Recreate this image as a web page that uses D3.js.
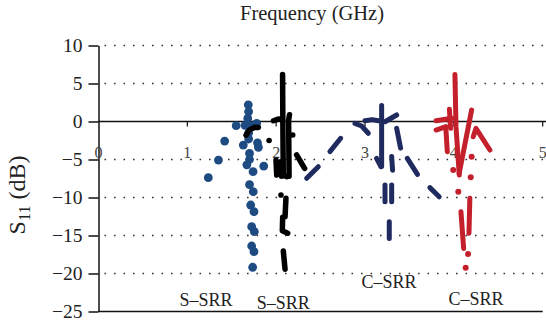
<!DOCTYPE html>
<html><head><meta charset="utf-8">
<script src="https://cdn.jsdelivr.net/npm/d3@7"></script>
<style>
body{margin:0;background:#fff}
svg{display:block}
text{font-family:"Liberation Serif","DejaVu Serif",serif;fill:#222}
</style>
</head><body>
<svg id="c" width="546" height="328"></svg>
<script>
// ---- data (frequency in GHz, S11 in dB) ----
const xTicks = [0, 1, 2, 3, 4, 5];
const yTicks = [10, 5, 0, -5, -10, -15, -20, -25];
const gridValues = [10, 5, -5, -10, -15, -20];

// S-SRR (blue dotted trace)
const sSrrBlueDots = [
  [1.236,-7.39],[1.35,-5.07],[1.42,-2.57],[1.55,-0.55],
  [1.686,2.2],[1.69,1.3],[1.68,0.4],[1.65,-0.5],[1.71,-0.6],[1.78,-0.24],
  [1.69,-1.5],[1.69,-2.3],[1.63,-3.1],[1.80,-3.4],[1.79,-2.8],[1.70,-4.2],[1.70,-5.0],
  [1.67,-5.7],[1.86,-5.86],[1.74,-6.6],[1.70,-8.3],
  [1.742,-9.24],[1.713,-10.99],[1.75,-11.87],[1.724,-13.84],[1.754,-14.5],
  [1.724,-16.38],[1.75,-17.13],[1.735,-19.18]
];

// S-SRR (black dashed trace)
const sSrrBlackStrokes = [
  [[1.66,-1.8],[1.70,-1.1],[1.76,-0.75],[1.80,-0.8]],
  [[1.97,0.1],[2.02,0.3],[2.06,0.37]],
  [[2.072,6.2],[2.075,0.0],[2.08,-7.1],[2.12,-7.25]],
  [[2.15,0.9],[2.14,0.2],[2.145,-7.2]],
  [[1.998,-5.07],[2.006,-7.04]],
  [[2.05,-5.3],[2.06,-7.2]],
  [[2.23,-4.4],[2.32,-6.16]],
  [[2.11,-10.1],[2.10,-12.5]],
  [[2.073,-12.6],[2.069,-14.37],[2.13,-14.7]],
  [[2.08,-17.04],[2.10,-19.45]]
];
const sSrrBlackDots = [[1.92,-2.5],[2.186,-1.78],[2.054,-9.67]];

// C-SRR (navy dashed trace)
const cSrrNavyStrokes = [
  [[2.343,-7.47],[2.474,-5.95]],
  [[2.605,-3.97],[2.726,-2.21]],
  [[2.887,-0.24],[2.962,-0.59],[3.037,-1.55]],
  [[3.0,0.1],[3.08,0.25],[3.15,0.1]],
  [[3.187,2.1],[3.187,-5.9]],
  [[3.13,-4.85],[3.18,-5.95]],
  [[3.225,-0.03],[3.356,0.86]],
  [[3.30,-4.6],[3.31,-6.4]],
  [[3.356,-0.9],[3.40,-3.5]],
  [[3.476,-4.85],[3.59,-6.95]],
  [[3.225,-8.36],[3.225,-10.55]],
  [[3.30,-8.36],[3.30,-10.55]],
  [[3.273,-13.2],[3.273,-15.4]],
  [[3.73,-8.7],[3.835,-9.9]]
];

// C-SRR (red dashed trace)
const cSrrRedStrokes = [
  [[4.012,6.2],[4.024,-0.68],[4.061,-7.04]],
  [[3.80,0.1],[3.975,0.42]],
  [[3.80,-1.12],[3.91,-0.68]],
  [[3.91,-0.9],[3.926,-3.97]],
  [[3.95,1.6],[3.963,-0.9]],
  [[4.06,-6.8],[4.20,1.5]],
  [[4.218,-2.0],[4.249,-0.9],[4.406,-3.75]],
  [[4.18,-10.1],[4.17,-14.7]],
  [[4.08,-11.87],[4.11,-16.7]]
];
const cSrrRedDots = [[4.2,-4.63],[3.993,-6.38],[4.19,-7.34],[4.05,-9.24],[4.16,-17.43],[4.133,-19.24]];

// annotations: [text, x (GHz), y (dB)]
const annotations = [
  ["S\u2013SRR", 1.21, -24.25],
  ["S\u2013SRR", 2.08, -24.7],
  ["C\u2013SRR", 3.27, -21.9],
  ["C\u2013SRR", 4.25, -24.2]
];

// ---- drawing ----
const svg = d3.select("#c");
const x = d3.scaleLinear().domain([0, 5]).range([98.5, 542.7]);
const y = d3.scaleLinear().domain([-25, 10]).range([311.5, 45.5]);
const fmt = d => d < 0 ? "\u2212" + Math.abs(d) : String(d);

// dotted grid
svg.append("g").selectAll("line").data(gridValues).join("line")
  .attr("x1", x(0) + 6).attr("x2", 546)
  .attr("y1", d => y(d)).attr("y2", d => y(d))
  .attr("stroke", "#333").attr("stroke-width", 1.6)
  .attr("stroke-dasharray", "1.6,7.9");

// y axis
const ya = svg.append("g").attr("transform", `translate(${x(0)},0)`)
  .call(d3.axisLeft(y).tickValues(yTicks).tickSize(10).tickSizeOuter(0).tickPadding(6).tickFormat(fmt));
ya.attr("font-family", null);
ya.select(".domain").attr("stroke", "#111").attr("stroke-width", 1.5);
ya.selectAll(".tick line").attr("stroke", "#111").attr("stroke-width", 1.5);
ya.selectAll(".tick text").attr("font-size", 19.5).style("font-family", "'Liberation Serif', serif").style("fill", "#222");

// bottom axis line
svg.append("line").attr("x1", x(0)).attr("x2", x(5))
  .attr("y1", y(-25)).attr("y2", y(-25)).attr("stroke", "#111").attr("stroke-width", 1.5);

// x axis at 0 dB
svg.append("line").attr("x1", x(0)).attr("x2", 546)
  .attr("y1", y(0)).attr("y2", y(0)).attr("stroke", "#111").attr("stroke-width", 1.4);
svg.append("g").selectAll("line").data(xTicks.slice(1)).join("line")
  .attr("x1", d => x(d)).attr("x2", d => x(d))
  .attr("y1", y(0)).attr("y2", y(0) + 5)
  .attr("stroke", "#111").attr("stroke-width", 1.2);
svg.append("g").selectAll("text").data(xTicks).join("text")
  .attr("x", d => x(d)).attr("y", y(0) + 36)
  .attr("text-anchor", "middle").attr("font-size", 16).style("fill", "#444")
  .text(d => d);

// traces
const line = d3.line().x(d => x(d[0])).y(d => y(d[1]));
function strokes(data, color, w) {
  svg.append("g").selectAll("path").data(data).join("path")
    .attr("d", line).attr("fill", "none").attr("stroke", color)
    .attr("stroke-width", w).attr("stroke-linecap", "round").attr("stroke-linejoin", "round");
}
function dots(data, color, r) {
  svg.append("g").selectAll("circle").data(data).join("circle")
    .attr("cx", d => x(d[0])).attr("cy", d => y(d[1])).attr("r", r).attr("fill", color);
}
dots(sSrrBlueDots, "#1d4b82", 4.4);
strokes(sSrrBlackStrokes, "#000", 5.5);
dots(sSrrBlackDots, "#000", 2.8);
strokes(cSrrNavyStrokes, "#1f2a5e", 5);
strokes(cSrrRedStrokes, "#c3202b", 5);
dots(cSrrRedDots, "#c3202b", 3);

// annotations
svg.append("g").selectAll("text").data(annotations).join("text")
  .attr("x", d => x(d[1])).attr("y", d => y(d[2]))
  .attr("text-anchor", "middle").attr("font-size", 18).style("fill", "#222")
  .text(d => d[0]);

// title
svg.append("text").attr("x", 312).attr("y", 20).attr("text-anchor", "middle")
  .attr("font-size", 20.5).text("Frequency (GHz)");

// y title
const yt = svg.append("text").attr("transform", "translate(25,195) rotate(-90)")
  .attr("text-anchor", "middle").attr("font-size", 24);
yt.append("tspan").text("S");
yt.append("tspan").attr("font-size", 16).attr("dy", 5).text("11");
yt.append("tspan").attr("dy", -5).text(" (dB)");
</script>
</body></html>
